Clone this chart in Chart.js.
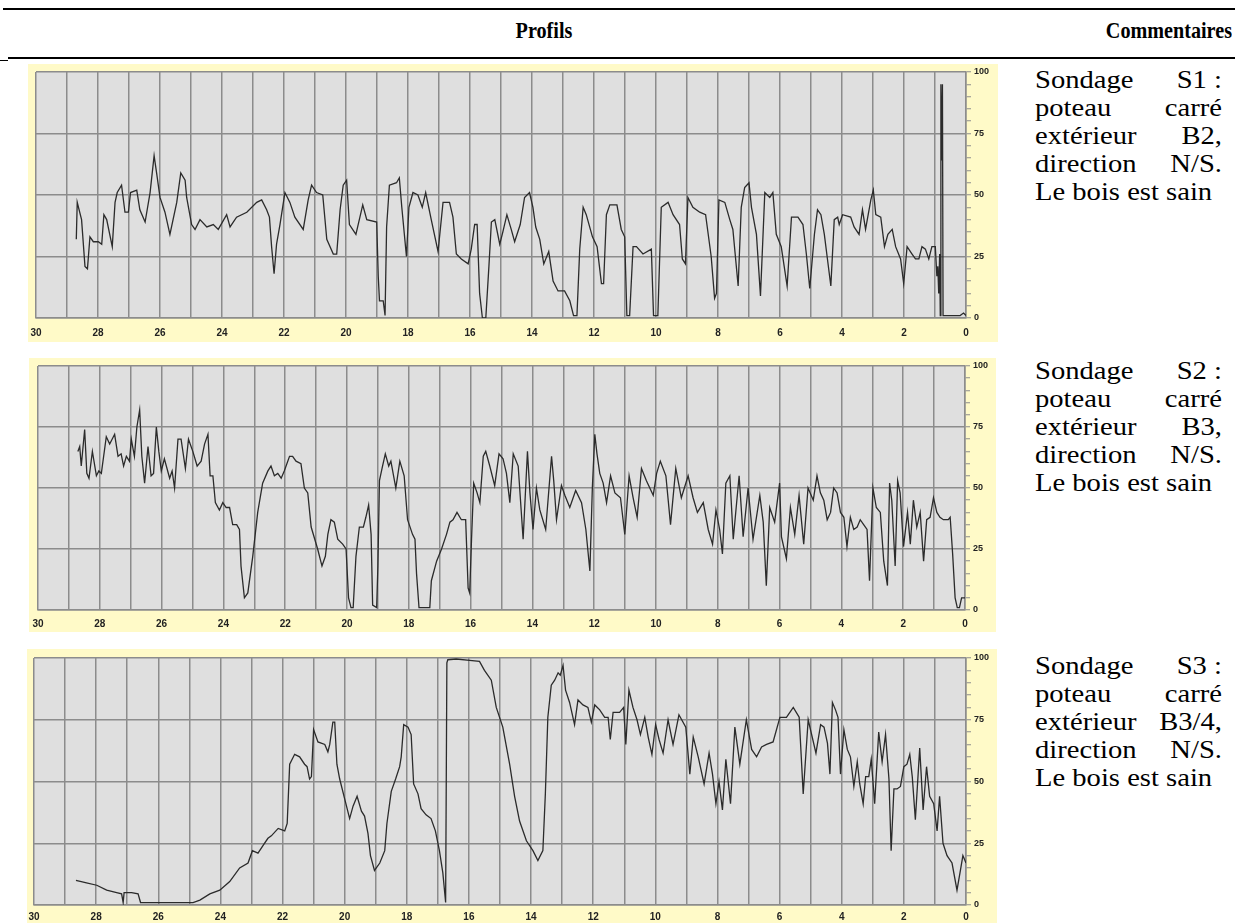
<!DOCTYPE html>
<html>
<head>
<meta charset="utf-8">
<script src="https://cdn.jsdelivr.net/npm/chart.js@4.4.1/dist/chart.umd.min.js"></script>
<style>
  html, body { margin: 0; padding: 0; background: #fff; }
  body { width: 1235px; height: 923px; position: relative; overflow: hidden;
         font-family: "Liberation Serif", "Times New Roman", serif; color: #000; }
  .rule { position: absolute; background: #000; }
  .head { position: absolute; top: 15px; font-weight: bold; font-size: 24px; line-height: 30px; white-space: nowrap;
          transform: scaleX(0.84); }
  .panel { position: absolute; background: #fffac8; }
  .panel canvas { display: block; }
  .note { position: absolute; left: 1035px; width: 170px; font-size: 26px; line-height: 28px;
          transform: scaleX(1.1); transform-origin: 0 0; }
  .note .j { display: flex; justify-content: space-between; white-space: nowrap; }
  .note .l { white-space: nowrap; }
</style>
</head>
<body>

<div class="rule" style="left:3px;top:8px;width:1232px;height:2px;"></div>
<div class="head" style="left:444px;width:200px;text-align:center;">Profils</div>
<div class="head" style="left:1032px;width:200px;text-align:right;transform-origin:100% 0;">Commentaires</div>
<div class="rule" style="left:8px;top:57px;width:1227px;height:1.5px;"></div>
<div class="rule" style="left:0;top:60px;width:8px;height:1px;"></div>

<div class="panel" style="left:28px;top:64px;"><canvas id="s1" width="970" height="278"></canvas></div>
<div class="panel" style="left:29px;top:358px;"><canvas id="s2" width="967" height="274"></canvas></div>
<div class="panel" style="left:27px;top:649px;"><canvas id="s3" width="970" height="274"></canvas></div>

<div class="note" id="n1" style="top:66px;"></div>
<div class="note" id="n2" style="top:357px;"></div>
<div class="note" id="n3" style="top:652px;"></div>

<script>
// Sondage S1 : depth (cm, axis runs 30 -> 0) and amplitude (%)
const s1Depth = [28.70, 28.67, 28.53, 28.42, 28.34, 28.26, 28.15, 27.99, 27.88, 27.81, 27.72, 27.54, 27.45, 27.38, 27.24, 27.13, 27.02, 26.95, 26.75, 26.65,
  26.48, 26.32, 26.19, 26.11, 26.00, 25.84, 25.68, 25.46, 25.33, 25.19, 25.14, 24.98, 24.87, 24.71, 24.49, 24.28, 24.12, 23.85, 23.74, 23.53,
  23.20, 22.88, 22.72, 22.56, 22.47, 22.40, 22.32, 22.24, 22.13, 21.97, 21.81, 21.65, 21.38, 21.22, 21.11, 20.95, 20.75, 20.62, 20.41, 20.30,
  20.19, 20.09, 19.98, 19.89, 19.68, 19.46, 19.33, 19.01, 18.96, 18.92, 18.80, 18.74, 18.69, 18.60, 18.37, 18.28, 18.20, 18.05, 17.97, 17.84,
  17.68, 17.54, 17.43, 17.25, 17.03, 16.87, 16.66, 16.55, 16.44, 16.28, 16.06, 15.96, 15.85, 15.77, 15.69, 15.60, 15.49, 15.39, 15.31, 15.20,
  15.04, 14.94, 14.81, 14.67, 14.56, 14.38, 14.24, 14.08, 13.97, 13.88, 13.75, 13.62, 13.46, 13.32, 13.16, 12.95, 12.78, 12.66, 12.55, 12.46,
  12.35, 12.25, 12.05, 11.90, 11.76, 11.69, 11.60, 11.49, 11.26, 11.12, 11.01, 10.94, 10.85, 10.74, 10.63, 10.42, 10.15, 10.08, 9.94, 9.83,
  9.61, 9.45, 9.24, 9.15, 9.05, 8.97, 8.81, 8.59, 8.40, 8.22, 8.11, 8.05, 7.97, 7.78, 7.62, 7.52, 7.35, 7.25, 7.14, 7.00,
  6.92, 6.76, 6.63, 6.49, 6.33, 6.23, 6.12, 5.96, 5.77, 5.63, 5.42, 5.26, 5.15, 5.04, 4.89, 4.79, 4.68, 4.57, 4.47, 4.36,
  4.25, 4.14, 4.09, 3.98, 3.72, 3.61, 3.45, 3.34, 3.24, 3.07, 2.99, 2.91, 2.75, 2.63, 2.52, 2.38, 2.27, 2.11, 2.01, 1.90,
  1.74, 1.63, 1.52, 1.42, 1.31, 1.20, 1.10, 0.99, 0.94, 0.91, 0.88, 0.85, 0.83, 0.81, 0.79, 0.76, 0.74, 0.19, 0.08, 0.00];
const s1Value = [32, 47, 40, 21, 20, 33, 31, 31, 30, 42, 40, 29, 47, 51, 54, 43, 43, 51, 52, 44,
  39, 51, 66, 59, 49, 43, 34, 47, 59, 56, 49, 38, 36, 40, 37, 38, 36, 42, 37, 41,
  43, 47, 48, 44, 41, 29, 18, 30, 38, 51, 47, 41, 36, 48, 54, 51, 50, 32, 26, 26,
  44, 54, 56, 38, 34, 46, 40, 39, 17, 7, 7, 1, 37, 54, 55, 57, 45, 25, 45, 51,
  50, 45, 51, 40, 27, 47, 47, 41, 26, 24, 22, 28, 38, 38, 10, 0, 0, 21, 39, 40,
  30, 35, 42, 36, 31, 38, 49, 51, 45, 37, 32, 22, 27, 15, 11, 11, 7, 1, 1, 28,
  45, 42, 33, 29, 14, 14, 42, 46, 46, 36, 33, 1, 1, 29, 29, 26, 28, 1, 1, 45,
  47, 42, 38, 24, 22, 49, 45, 43, 42, 25, 8, 10, 48, 47, 40, 36, 13, 45, 53, 55,
  45, 34, 9, 51, 49, 51, 34, 29, 13, 41, 41, 38, 26, 12, 34, 44, 42, 34, 24, 13,
  40, 41, 38, 42, 41, 37, 34, 44, 36, 48, 52, 42, 41, 29, 34, 36, 29, 24, 14, 29,
  26, 24, 24, 29, 28, 24, 29, 29, 17, 21, 10, 26, 1, 95, 64, 95, 1, 1, 2, 1];

// Sondage S2
const s2Depth = [28.71, 28.65, 28.60, 28.49, 28.42, 28.35, 28.24, 28.11, 28.03, 27.95, 27.79, 27.68, 27.52, 27.41, 27.31, 27.23, 27.14, 27.04, 26.98, 26.88,
  26.80, 26.71, 26.64, 26.55, 26.44, 26.34, 26.26, 26.17, 26.09, 26.01, 25.91, 25.74, 25.66, 25.58, 25.47, 25.37, 25.23, 25.13, 24.99, 24.85,
  24.72, 24.61, 24.50, 24.43, 24.34, 24.26, 24.13, 24.02, 23.91, 23.80, 23.70, 23.57, 23.48, 23.43, 23.32, 23.21, 23.05, 22.89, 22.73, 22.56,
  22.46, 22.35, 22.24, 22.13, 22.03, 21.86, 21.76, 21.65, 21.49, 21.38, 21.27, 21.16, 20.95, 20.81, 20.70, 20.62, 20.52, 20.41, 20.30, 20.14,
  20.03, 19.95, 19.87, 19.80, 19.71, 19.60, 19.47, 19.39, 19.30, 19.22, 19.17, 19.04, 19.00, 18.95, 18.85, 18.76, 18.65, 18.58, 18.42, 18.29,
  18.15, 18.04, 17.88, 17.80, 17.75, 17.67, 17.32, 17.27, 17.10, 16.94, 16.78, 16.67, 16.57, 16.44, 16.30, 16.16, 16.08, 16.03, 15.97, 15.90,
  15.79, 15.70, 15.59, 15.51, 15.38, 15.22, 15.08, 14.95, 14.84, 14.73, 14.62, 14.46, 14.30, 14.16, 14.08, 13.98, 13.87, 13.76, 13.57, 13.38,
  13.31, 13.22, 13.06, 12.95, 12.79, 12.60, 12.41, 12.27, 12.14, 12.06, 11.98, 11.91, 11.82, 11.71, 11.60, 11.47, 11.33, 11.15, 11.01, 10.87,
  10.74, 10.61, 10.47, 10.31, 10.09, 9.98, 9.86, 9.68, 9.53, 9.36, 9.18, 8.96, 8.80, 8.66, 8.47, 8.31, 8.17, 8.06, 7.94, 7.85,
  7.74, 7.61, 7.50, 7.31, 7.18, 7.02, 6.86, 6.64, 6.53, 6.43, 6.32, 6.16, 6.00, 5.94, 5.78, 5.65, 5.51, 5.37, 5.22, 5.08,
  4.91, 4.79, 4.68, 4.57, 4.46, 4.35, 4.25, 4.14, 4.03, 3.92, 3.82, 3.71, 3.60, 3.49, 3.39, 3.28, 3.17, 3.09, 2.98, 2.87,
  2.74, 2.63, 2.51, 2.44, 2.37, 2.26, 2.18, 2.10, 1.99, 1.86, 1.77, 1.67, 1.56, 1.45, 1.34, 1.24, 1.13, 1.02, 0.91, 0.81,
  0.70, 0.54, 0.48, 0.40, 0.32, 0.25, 0.18, 0.11, 0.00];
const s2Value = [65, 67, 59, 74, 56, 54, 65, 55, 57, 56, 71, 68, 72, 63, 64, 59, 63, 61, 70, 63,
  75, 82, 63, 52, 67, 55, 56, 75, 65, 57, 62, 54, 57, 50, 70, 70, 58, 70, 65, 59,
  61, 68, 72, 55, 55, 44, 41, 44, 42, 42, 35, 35, 33, 18, 5, 7, 22, 40, 52, 57,
  59, 55, 56, 54, 57, 63, 63, 61, 60, 50, 48, 34, 25, 18, 22, 31, 37, 36, 29, 27,
  25, 5, 1, 1, 22, 34, 34, 38, 43, 31, 2, 1, 18, 53, 59, 64, 59, 61, 50, 61,
  55, 37, 31, 29, 15, 1, 1, 12, 20, 25, 31, 36, 37, 40, 37, 37, 9, 7, 29, 52,
  48, 44, 63, 65, 59, 51, 64, 62, 56, 44, 64, 59, 29, 65, 48, 33, 50, 41, 33, 63,
  53, 37, 51, 47, 42, 49, 44, 33, 16, 50, 72, 64, 56, 52, 44, 55, 48, 46, 31, 55,
  46, 38, 58, 53, 47, 56, 61, 55, 35, 58, 46, 55, 46, 40, 44, 33, 27, 41, 33, 23,
  52, 55, 29, 55, 30, 50, 29, 47, 36, 10, 42, 36, 52, 30, 21, 42, 31, 47, 27, 50,
  45, 55, 48, 45, 37, 40, 50, 48, 40, 38, 26, 38, 33, 34, 37, 35, 33, 12, 50, 42,
  40, 20, 10, 52, 45, 18, 53, 48, 26, 40, 27, 45, 34, 40, 20, 37, 38, 46, 40, 38,
  37, 37, 38, 23, 5, 1, 1, 5, 5];

// Sondage S3
const s3Depth = [28.65, 28.31, 27.98, 27.66, 27.34, 27.18, 27.13, 27.10, 26.86, 26.65, 26.57, 26.27, 24.88, 24.66, 24.34, 24.02, 23.70, 23.38, 23.11, 22.97,
  22.79, 22.63, 22.47, 22.36, 22.14, 21.93, 21.85, 21.77, 21.61, 21.45, 21.29, 21.21, 21.13, 21.07, 21.00, 20.86, 20.64, 20.54, 20.48, 20.38,
  20.32, 20.25, 20.16, 20.00, 19.84, 19.73, 19.60, 19.46, 19.36, 19.25, 19.17, 19.04, 18.87, 18.71, 18.64, 18.50, 18.36, 18.23, 18.18, 18.10,
  17.96, 17.86, 17.78, 17.64, 17.54, 17.38, 17.22, 17.08, 16.95, 16.84, 16.75, 16.71, 16.68, 16.41, 15.98, 15.66, 15.50, 15.28, 15.12, 14.91,
  14.69, 14.53, 14.37, 14.15, 13.94, 13.78, 13.62, 13.54, 13.46, 13.35, 13.24, 13.13, 13.06, 12.97, 12.89, 12.76, 12.60, 12.49, 12.33, 12.17,
  12.06, 11.95, 11.79, 11.63, 11.52, 11.45, 11.36, 11.15, 11.02, 10.95, 10.85, 10.72, 10.59, 10.48, 10.34, 10.23, 10.11, 9.99, 9.88, 9.75,
  9.59, 9.43, 9.24, 9.02, 8.89, 8.78, 8.62, 8.43, 8.27, 8.16, 8.05, 7.95, 7.84, 7.73, 7.58, 7.44, 7.28, 7.07, 6.90, 6.74,
  6.58, 6.42, 6.21, 5.99, 5.78, 5.56, 5.37, 5.24, 5.08, 4.83, 4.68, 4.57, 4.46, 4.38, 4.30, 4.20, 4.12, 4.04, 3.93, 3.82,
  3.72, 3.61, 3.50, 3.42, 3.31, 3.23, 3.13, 3.05, 2.94, 2.81, 2.70, 2.59, 2.48, 2.41, 2.32, 2.22, 2.11, 2.00, 1.90, 1.81,
  1.73, 1.63, 1.49, 1.38, 1.27, 1.17, 1.04, 0.93, 0.85, 0.74, 0.61, 0.45, 0.29, 0.18, 0.10, 0.00];
const s3Value = [10, 9, 8, 6, 5, 4.5, 1, 5, 5, 4.5, 1, 1, 1, 2, 4.5, 6, 9.5, 15, 17, 22,
  21, 24, 27, 28, 31, 30, 33, 57, 61, 60, 57, 56, 51, 52, 71, 66, 65, 62, 65, 74,
  74, 57, 51, 43, 35, 40, 44, 38, 36, 29, 20, 14, 17, 22, 33, 46, 51, 56, 60, 73,
  72, 69, 49, 45, 39, 36.5, 35, 30, 22, 13, 1, 98, 99.3, 99.6, 99, 98.6, 95, 91, 80, 72,
  57, 44, 34, 26, 22, 18, 22, 45, 76, 89, 91, 94, 93, 97, 87, 82, 73, 83, 81, 80,
  74, 81, 79, 76, 76, 67, 78, 78, 80, 65, 87, 80, 75, 69, 76, 68, 61, 73, 67, 61.5,
  75, 65, 77, 72, 53, 68, 60, 49, 61.5, 53, 41, 50, 38.5, 59, 41, 72, 57, 75, 63, 60,
  64, 65, 66, 76, 76, 80, 76, 45, 75, 61.5, 73, 72, 65.5, 53, 82, 79, 76, 53, 71, 63,
  60, 48, 58, 49, 41, 52, 52, 59, 41, 70, 58, 69, 51, 22, 47, 47, 48, 56, 57, 61,
  52, 34.5, 63.5, 38.5, 56, 44, 41, 30, 44, 25, 20, 17, 6, 14, 20, 17];

const noteLines = [
  ['Sondage', 'S1 :', 'poteau', 'carré', 'extérieur', 'B2,', 'direction', 'N/S.'],
  ['Sondage', 'S2 :', 'poteau', 'carré', 'extérieur', 'B3,', 'direction', 'N/S.'],
  ['Sondage', 'S3 :', 'poteau', 'carré', 'extérieur', 'B3/4,', 'direction', 'N/S.']
];
const noteLast = 'Le bois est sain';

const gridGray = '#8c8c8c';
const tickFont = { family: 'Liberation Sans, Arial, sans-serif', size: 10, weight: 'bold' };
const yTickFont = { family: 'Liberation Sans, Arial, sans-serif', size: 9, weight: 'bold' };

const plotBg = {
  id: 'plotBg',
  beforeDraw(chart) {
    const { ctx, chartArea: a } = chart;
    ctx.save();
    ctx.fillStyle = '#dfdfdf';
    ctx.fillRect(a.left, a.top, a.right - a.left, a.bottom - a.top);
    ctx.restore();
  }
};

function profile(id, depth, value, box) {
  const pts = depth.map((d, i) => ({ x: d, y: value[i] }));
  return new Chart(document.getElementById(id), {
    type: 'line',
    data: {
      datasets: [{
        data: pts,
        borderColor: '#2b2b2b',
        borderWidth: 1.3,
        pointRadius: 0,
        tension: 0,
        fill: false
      }]
    },
    options: {
      responsive: false,
      animation: false,
      events: [],
      layout: { padding: { left: box.padL, top: box.padT, right: 0, bottom: 0 } },
      plugins: { legend: { display: false }, tooltip: { enabled: false } },
      scales: {
        x: {
          type: 'linear', min: 0, max: 30, reverse: true,
          afterFit: s => { s.height = box.xH; s.paddingLeft = 0; s.paddingRight = 0; },
          ticks: {
            stepSize: 1, autoSkip: false, maxRotation: 0, padding: box.xPad,
            color: '#222', font: tickFont,
            callback: v => (v % 2 === 0 ? String(v) : '')
          },
          grid: { color: gridGray, lineWidth: 1.5, drawTicks: false },
          border: { color: gridGray, width: 1.5 }
        },
        y: {
          position: 'right', min: 0, max: 100,
          afterFit: s => { s.width = box.yW; s.paddingTop = 0; s.paddingBottom = 0; },
          ticks: {
            stepSize: 5, autoSkip: false, padding: 3,
            color: '#222', font: yTickFont,
            callback: v => (v % 25 === 0 ? String(v) : '')
          },
          grid: {
            color: c => (c.tick && c.tick.value % 25 === 0 ? gridGray : 'rgba(0,0,0,0)'),
            lineWidth: 1.5, tickColor: gridGray, tickLength: 5, tickWidth: 1
          },
          border: { color: gridGray, width: 1.5 }
        }
      }
    },
    plugins: [plotBg]
  });
}

profile('s1', s1Depth, s1Value, { padL: 8, padT: 8, yW: 32, xH: 24, xPad: 9 });
profile('s2', s2Depth, s2Value, { padL: 9, padT: 8, yW: 31, xH: 22, xPad: 8 });
profile('s3', s3Depth, s3Value, { padL: 7, padT: 9, yW: 31, xH: 18, xPad: 6 });

noteLines.forEach((w, k) => {
  const el = document.getElementById('n' + (k + 1));
  let html = '';
  for (let i = 0; i < w.length; i += 2) {
    html += '<div class="j"><span>' + w[i] + '</span><span>' + w[i + 1] + '</span></div>';
  }
  html += '<div class="l">' + noteLast + '</div>';
  el.innerHTML = html;
});
</script>
</body>
</html>
